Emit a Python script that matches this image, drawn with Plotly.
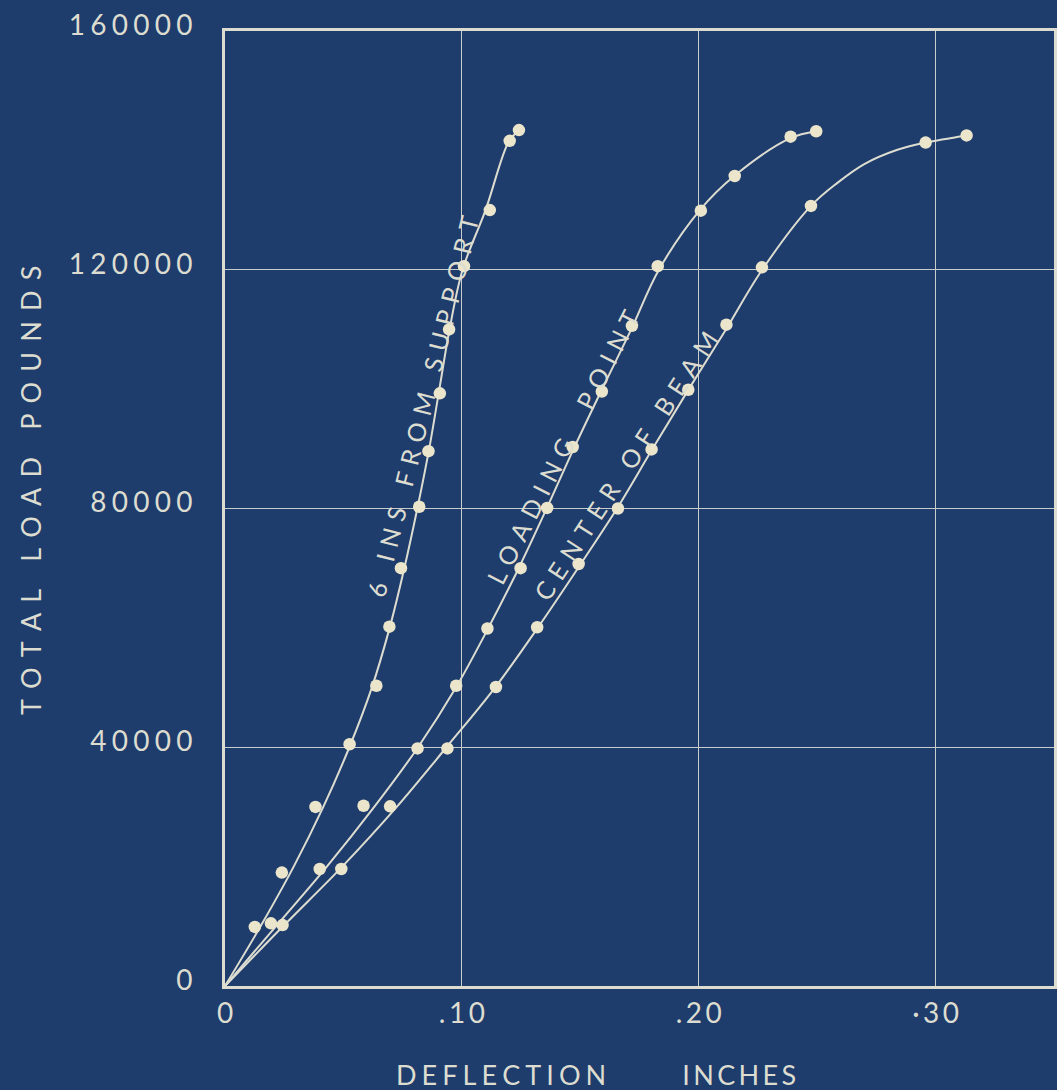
import plotly.graph_objects as go

# Measured test points: deflection (inches) and total load (pounds)
support_defl = [0.0126, 0.0240, 0.0382, 0.0526, 0.0639, 0.0694, 0.0743, 0.0820, 0.0859,
                0.0907, 0.0946, 0.1009, 0.1118, 0.1202, 0.1241]
support_load = [9900, 19000, 30000, 40500, 50300, 60200, 70000, 80300, 89600,
                99300, 110000, 120600, 130000, 141600, 143400]

loadpt_defl = [0.0194, 0.0400, 0.0585, 0.0813, 0.0976, 0.1108, 0.1248, 0.1360, 0.1468,
               0.1591, 0.1718, 0.1827, 0.2009, 0.2152, 0.2388, 0.2496]
loadpt_load = [10500, 19600, 30200, 39800, 50300, 59900, 70000, 80100, 90300,
               99600, 110600, 120600, 129900, 135700, 142300, 143200]

center_defl = [0.0243, 0.0491, 0.0697, 0.0939, 0.1144, 0.1318, 0.1493, 0.1659, 0.1801,
               0.1956, 0.2117, 0.2267, 0.2474, 0.2958, 0.3131]
center_load = [10200, 19600, 30100, 39800, 50100, 60100, 70700, 80000, 89900,
               99900, 110800, 120400, 130700, 141300, 142500]

# Faired curves drawn through the test points
support_curve_defl = [0, 0.0150, 0.0290, 0.0415, 0.0525, 0.0620, 0.0695, 0.0757, 0.0812,
                      0.0862, 0.0905, 0.0948, 0.1003, 0.1100, 0.1197, 0.1236]
support_curve_load = [0, 10000, 20000, 30000, 40000, 50000, 60000, 70000, 80000,
                      90000, 100000, 110000, 120000, 130000, 141400, 143200]

loadpt_curve_defl = [0, 0.0215, 0.0430, 0.0630, 0.0815, 0.0975, 0.1112, 0.1240, 0.1358,
                     0.1472, 0.1592, 0.1715, 0.1832, 0.2005, 0.2150, 0.2385, 0.2496]
loadpt_curve_load = [0, 10000, 20000, 30000, 40000, 50000, 60000, 70000, 80000,
                     90000, 100000, 110000, 120000, 130000, 135700, 142000, 143200]

center_curve_defl = [0, 0.0245, 0.0495, 0.0725, 0.0935, 0.1140, 0.1320, 0.1490, 0.1655,
                     0.1805, 0.1958, 0.2115, 0.2268, 0.2474, 0.2587, 0.2699, 0.2839,
                     0.2958, 0.3131]
center_curve_load = [0, 10000, 20000, 30000, 40000, 50000, 60000, 70000, 80000,
                     90000, 100000, 110000, 120000, 130700, 134600, 137700, 140100,
                     141300, 142500]

x_ticks = [0, 0.10, 0.20, 0.30]
x_tick_text = ["0", ".10", ".20", "·30"]
y_ticks = [0, 40000, 80000, 120000, 160000]
y_tick_text = ["0", "40000", "80000", "120000", "160000"]

curve_labels = ["6 INS FROM SUPPORT", "LOADING  POINT", "CENTER OF BEAM"]
label_pos = [(0.0835, 97100, -76), (0.1425, 90300, -63), (0.1688, 87200, -57)]

PAPER = "#1e3c6c"
INK = "#dcddd0"
DOT = "#ebe6cb"
FONT = "Lato"
WEIGHT = 400


def spaced(text, gap="\u2009"):
    """Hand-lettered look: open up the letter spacing."""
    return gap.join(text)


fig = go.Figure()

for cx, cy in [(support_curve_defl, support_curve_load),
               (loadpt_curve_defl, loadpt_curve_load),
               (center_curve_defl, center_curve_load)]:
    fig.add_trace(go.Scatter(x=cx, y=cy, mode="lines",
                             line=dict(color=INK, width=2, shape="spline", smoothing=1.0),
                             hoverinfo="skip", showlegend=False))

for px, py in [(support_defl, support_load),
               (loadpt_defl, loadpt_load),
               (center_defl, center_load)]:
    fig.add_trace(go.Scatter(x=px, y=py, mode="markers",
                             marker=dict(color=DOT, size=12.5, line=dict(width=0)),
                             showlegend=False))

for text, (lx, ly, ang) in zip(curve_labels, label_pos):
    fig.add_annotation(x=lx, y=ly, xref="x", yref="y",
                       text=spaced(text, "\u2009\u2009\u200a"),
                       textangle=ang, showarrow=False, xanchor="center", yanchor="middle",
                       font=dict(family=FONT, size=25, color=INK, weight=WEIGHT))

fig.add_annotation(x=-0.2345, y=0.519, xref="paper", yref="paper",
                   text=spaced("TOTAL LOAD POUNDS", "\u2009\u2009\u200a\u200a"), textangle=-90,
                   showarrow=False, xanchor="center", yanchor="middle",
                   font=dict(family=FONT, size=27, color=INK, weight=WEIGHT))
fig.add_annotation(x=0.447, y=-0.093, xref="paper", yref="paper",
                   text=spaced("DEFLECTION", "\u2009\u200a") + "           "
                   + spaced("INCHES", "\u2009"),
                   showarrow=False, xanchor="center", yanchor="middle",
                   font=dict(family=FONT, size=27, color=INK, weight=WEIGHT))

axis_common = dict(showline=True, mirror=True, linecolor=INK, linewidth=3,
                   showgrid=True, gridcolor="#c8cdcc", gridwidth=1.3,
                   zeroline=False, ticks="",
                   tickfont=dict(family=FONT, size=28, color=INK, weight=WEIGHT))

fig.update_xaxes(range=[0, 0.35], tickvals=x_ticks,
                 ticktext=[spaced(t, "\u2009") for t in x_tick_text],
                 ticklabelstandoff=0, **axis_common)
fig.update_yaxes(range=[0, 160000], tickvals=y_ticks,
                 ticktext=[spaced(t, "\u2009\u200a") for t in y_tick_text],
                 ticklabelstandoff=24, ticklabelshift=-6, **axis_common)

fig.update_layout(width=1057, height=1090,
                  margin=dict(l=225, r=0, t=31, b=104),
                  paper_bgcolor=PAPER, plot_bgcolor=PAPER,
                  showlegend=False)

fig.write_html("out.html")
